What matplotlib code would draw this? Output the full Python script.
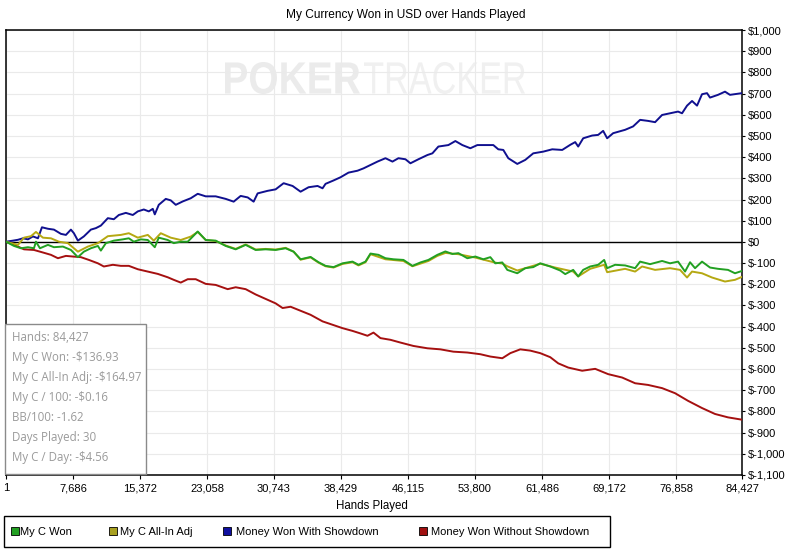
import matplotlib.pyplot as plt
from matplotlib.patches import Rectangle, PathPatch
from matplotlib.textpath import TextPath
from matplotlib.font_manager import FontProperties
from matplotlib.transforms import Affine2D

# hands / cumulative USD
hands_sd = [1, 802, 1375, 1947, 2520, 3093, 3666, 4124, 4811, 5498, 6300, 6873, 7446,
            7789, 8248, 8935, 9737, 10310, 10882, 11684, 12371, 12944, 13746, 14548,
            15121, 15808, 16381, 16839, 17068, 17526, 18328, 18901, 19474, 20275, 21192,
            21994, 22910, 24055, 25201, 26117, 26919, 27721, 28408, 28867, 30012, 30928,
            31845, 32876, 33792, 34709, 35740, 36312, 36656, 37572, 38374, 39291, 40322,
            41009, 41811, 42613, 43529, 44331, 45018, 45820, 46393, 47309, 48340, 48913,
            49600, 50746, 51548, 52349, 53266, 54068, 54984, 55900, 56473, 57046, 57619,
            58650, 59566, 60482, 61628, 62659, 63804, 64721, 65294, 65637, 66210, 67241,
            67928, 68501, 68959, 69646, 71021, 71937, 72739, 73656, 74458, 75259, 76176,
            77092, 77550, 78123, 78696, 79269, 79841, 80414, 80758, 81674, 82476, 83049,
            84427]
won_sd = [1, 6, 10, 17, 12, 26, 17, 69, 62, 58, 38, 33, 58,
          41, 6, 26, 58, 65, 77, 112, 107, 127, 137, 127,
          144, 153, 144, 156, 130, 175, 203, 196, 175, 191, 206,
          227, 215, 215, 203, 190, 217, 210, 190, 229, 241, 248,
          277, 264, 237, 258, 264, 253, 274, 290, 305, 327, 336,
          347, 363, 379, 395, 379, 395, 390, 371, 390, 410, 418,
          450, 457, 476, 457, 442, 457, 457, 457, 437, 434, 395,
          368, 387, 418, 426, 437, 434, 458, 471, 450, 489, 502,
          505, 524, 489, 513, 529, 545, 576, 571, 565, 599, 607,
          615, 607, 643, 665, 643, 697, 702, 681, 694, 709, 694,
          702]

hands_nsd = [1, 1375, 2062, 3207, 4238, 5155, 5957, 6873, 7675, 8591, 9508, 10539,
             11226, 12257, 13173, 14090, 15121, 16266, 17412, 18557, 19244, 20046,
             20848, 21765, 22910, 24055, 25430, 26347, 27492, 28638, 29783, 30928,
             31730, 32647, 33792, 34938, 36312, 37458, 38603, 39749, 40665, 41467,
             42154, 42956, 44102, 45247, 46736, 48340, 49829, 51318, 52922, 54411,
             55557, 56931, 57848, 58993, 60139, 61284, 62430, 63346, 64492, 66095,
             67585, 69074, 70677, 72167, 73656, 75259, 76749, 78238, 79841, 81331,
             82820, 84427]
won_nsd = [1, -22, -35, -38, -50, -61, -77, -66, -69, -72, -85, -101,
           -116, -108, -113, -113, -129, -140, -151, -167, -179, -192,
           -176, -176, -198, -203, -223, -214, -223, -248, -269, -290,
           -312, -306, -325, -344, -375, -391, -407, -420, -432, -443,
           -428, -454, -462, -475, -491, -502, -507, -518, -522, -530,
           -541, -549, -525, -507, -513, -525, -544, -573, -593, -608,
           -599, -624, -640, -667, -675, -690, -714, -750, -784, -812,
           -828, -839]

hands_won = [1, 916, 1718, 2520, 3207, 3437, 3895, 4811, 5498, 6529, 7446, 8248,
             8935, 9737, 10539, 10882, 11455, 12371, 13402, 14090, 14662, 15464,
             16266, 17068, 17526, 18557, 19244, 20046, 20848, 21994, 22910, 24055,
             25201, 26347, 27492, 28638, 29783, 30928, 32074, 32990, 33792, 34938,
             35854, 36656, 37572, 38603, 39749, 40436, 41238, 41811, 42727, 43529,
             44445, 45591, 46622, 47538, 48455, 49486, 50402, 51204, 51891, 52922,
             53839, 54755, 55557, 56130, 56931, 57504, 58650, 59566, 60482, 61284,
             62430, 63575, 64148, 65064, 65637, 66210, 67012, 67928, 68615, 68959,
             69876, 71021, 72167, 72739, 73885, 75259, 76176, 77092, 77894, 78467,
             79040, 79841, 80758, 81674, 82820, 83622, 84427]
my_c_won = [1, -19, -30, -25, -30, 1, -30, -14, -25, -22, -38, -72,
            -46, -30, -19, -41, -6, 6, 12, 17, 1, 12,
            9, -25, 20, 9, -6, 1, 1, 49, 9, 6,
            -19, -35, -14, -38, -35, -38, -30, -46, -82, -71,
            -96, -113, -119, -101, -93, -108, -93, -55, -61, -77,
            -82, -85, -113, -97, -85, -61, -45, -57, -53, -77,
            -69, -82, -72, -101, -97, -132, -148, -124, -119, -101,
            -116, -135, -152, -132, -163, -132, -116, -108, -85, -124,
            -108, -111, -124, -93, -105, -90, -101, -93, -140, -96,
            -124, -93, -121, -127, -132, -148, -137]

hands_adj = [1, 1375, 2062, 2864, 3437, 4238, 5155, 6071, 7102, 8248, 9393, 10539,
             11684, 13173, 14090, 15121, 16266, 16953, 17755, 18901, 20046, 21192,
             21994, 22910, 24055, 25201, 26347, 27492, 28638, 29783, 30928, 32074,
             32990, 33792, 34938, 35854, 36656, 37572, 38603, 39749, 40436, 41238,
             41811, 43529, 45591, 46622, 48455, 49486, 50402, 51891, 53839, 56130,
             56931, 57504, 58650, 59566, 61284, 63003, 65064, 65637, 67012, 68615,
             68959, 71021, 72167, 72968, 74458, 76176, 77321, 78123, 78696, 79841,
             80987, 82476, 83622, 84427]
my_c_adj = [1, -14, 20, 27, 47, 20, 17, 1, -6, -46, -22, -6,
            27, 33, 41, 20, 33, 6, 41, 20, 9, 25,
            47, 9, 4, -17, -33, -12, -36, -33, -36, -28,
            -46, -84, -73, -98, -115, -121, -104, -96, -111, -96,
            -58, -82, -90, -115, -90, -66, -52, -58, -74, -98,
            -102, -115, -135, -124, -103, -121, -140, -163, -127, -108,
            -143, -127, -140, -116, -132, -124, -132, -168, -140, -148,
            -168, -187, -179, -165]

x_ticks = [1, 7686, 15372, 23058, 30743, 38429, 46115, 53800, 61486, 69172, 76858, 84427]
y_ticks = list(range(-1100, 1001, 100))

stats = ['Hands: 84,427', 'My C Won: -$136.93', 'My C All-In Adj: -$164.97',
         'My C / 100: -$0.16', 'BB/100: -1.62', 'Days Played: 30', 'My C / Day: -$4.56']
legend_names = ['My C Won', 'My C All-In Adj', 'Money Won With Showdown', 'Money Won Without Showdown']
colors = ['#22A022', '#B5A812', '#10108F', '#A51010']
legend_colors = ['#22A022', '#A8A020', '#1010A0', '#A01010']

plt.rcParams['font.family'] = ['Liberation Sans', 'DejaVu Sans']
W, H = 792, 550
fig = plt.figure(figsize=(W / 100, H / 100), dpi=100)
ax = fig.add_axes([6 / W, 1 - 475 / H, 736 / W, 445 / H])
ax.set_facecolor('none')

def fx(px):
    return px / W

def fy(py):
    return 1 - py / H

def watermark(word, bold, x0, x1, top, bottom, color):
    prop = FontProperties(family='Liberation Sans', weight='bold' if bold else 'normal')
    tp = TextPath((0, 0), word, size=10, prop=prop)
    bb = tp.get_extents()
    tr = (Affine2D().translate(-bb.x0, -bb.y0)
          .scale((x1 - x0) / bb.width, (bottom - top) / bb.height)
          .translate(x0, H - bottom))
    fig.add_artist(PathPatch(tp, transform=tr, facecolor=color, edgecolor='none', zorder=-1))

watermark('POKER', True, 225, 360, 62, 94, '#EBEBEB')
watermark('TRACKER', False, 364, 525, 62, 94, '#F0F0F0')

ax.plot(hands_nsd, won_nsd, color=colors[3], lw=1.4, zorder=3)
ax.plot(hands_sd, won_sd, color=colors[2], lw=1.4, zorder=3)
ax.plot(hands_adj, my_c_adj, color=colors[1], lw=1.4, zorder=4)
ax.plot(hands_won, my_c_won, color=colors[0], lw=1.4, zorder=5)
ax.axhline(0, color='black', lw=1, zorder=2)

ax.set_xlim(1, 84427)
ax.set_ylim(-1100, 1000)
ax.set_xticks(x_ticks)
ax.set_xticklabels([f'{v:,}' for v in x_ticks])
ax.set_yticks(y_ticks)
ax.set_yticklabels(['$' + f'{v:,}' for v in y_ticks])
ax.yaxis.tick_right()
ax.tick_params(axis='y', length=2.5, width=0.8, pad=2, labelsize=8)
ax.tick_params(axis='x', length=3, width=0.8, pad=3, labelsize=8)
ax.grid(True, color='#EAEAEA', lw=0.8, zorder=1)
ax.set_axisbelow(True)
for s in ax.spines.values():
    s.set_linewidth(1.1)
    s.set_color('black')

fig.text(fx(406), fy(18), 'My Currency Won in USD over Hands Played', ha='center',
         va='baseline', fontsize=8.6)
fig.text(fx(372), fy(509), 'Hands Played', ha='center', va='baseline', fontsize=8.3)

# stats box
fig.add_artist(Rectangle((fx(5), fy(474)), 141 / W, 150 / H, transform=fig.transFigure,
                         facecolor='white', edgecolor='#8A8A8A', lw=1, zorder=6))
for i, s in enumerate(stats):
    fig.text(fx(12), fy(341 + 20 * i), s, fontsize=8.3, color='#9A9A9A',
             family=['Open Sans', 'DejaVu Sans'], va='baseline', zorder=7)

# legend
fig.add_artist(Rectangle((fx(4), fy(547)), 606 / W, 31 / H, transform=fig.transFigure,
                         facecolor='white', edgecolor='black', lw=1))
sq_x = [11, 109, 223, 419]
txt_x = [20, 120, 236, 431]
for name, c, sx, tx in zip(legend_names, legend_colors, sq_x, txt_x):
    fig.add_artist(Rectangle((fx(sx), fy(535)), 8 / W, 8 / H, transform=fig.transFigure,
                             facecolor=c, edgecolor='black', lw=0.6))
    fig.text(fx(tx), fy(535), name, fontsize=8, va='baseline')

fig.savefig('out.png', dpi=100)
